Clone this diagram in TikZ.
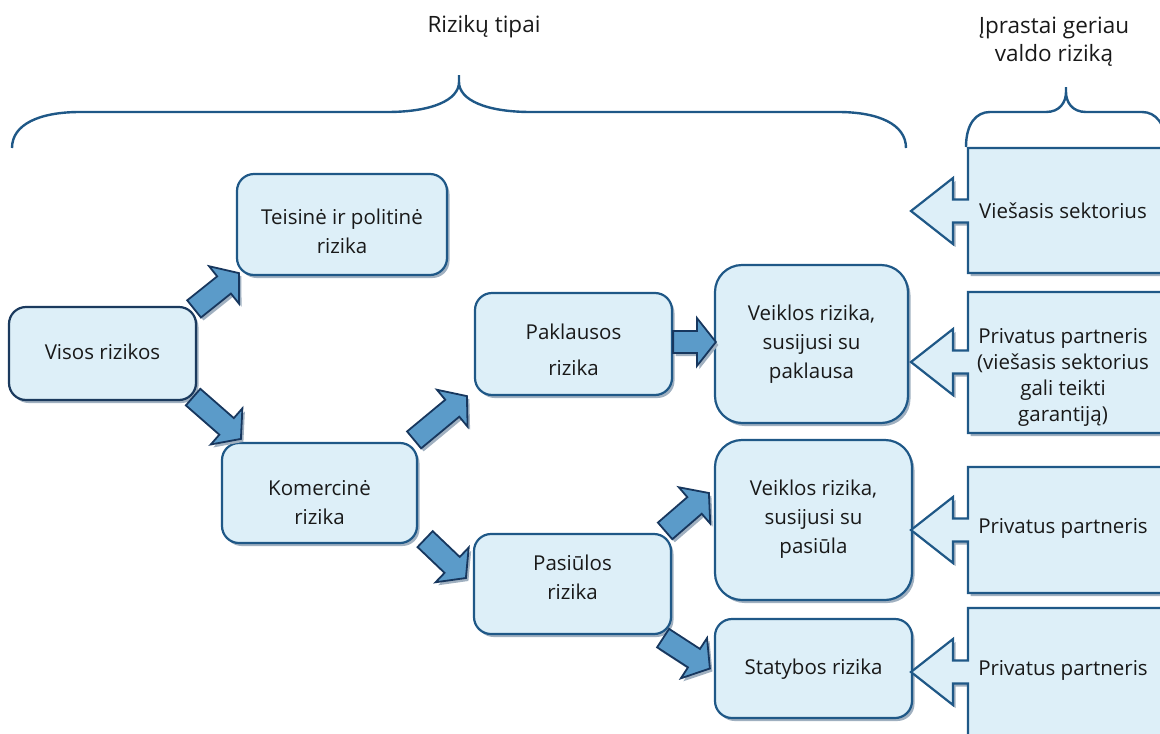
\documentclass[tikz,border=0pt]{standalone}
\usepackage{fontspec}
\setmainfont{Open Sans}
\usetikzlibrary{calc,shadows}

\definecolor{boxfill}{RGB}{221,239,248}
\definecolor{boxline}{RGB}{31,88,135}
\definecolor{rootline}{RGB}{27,58,94}
\definecolor{arrfill}{RGB}{91,155,201}
\definecolor{arrline}{RGB}{23,55,94}
\definecolor{shadowc}{RGB}{160,176,192}

\tikzset{
  every node/.style={font=\fontsize{20.5}{29}\selectfont, text=black!90},
  shade/.style={drop shadow={shadow xshift=2.5pt,shadow yshift=-3pt,fill=shadowc,opacity=1}},
  box/.style={rectangle, rounded corners=17pt, draw=boxline, fill=boxfill, line width=2.2pt,
    align=center, inner sep=0pt, shade},
  tallbox/.style={box, rounded corners=27pt},
  barrow/.style={draw=arrline, fill=arrfill, line width=1.8pt, line join=miter, shade},
  callout/.style={draw=boxline, fill=boxfill, line width=2.2pt, line join=miter, shade},
  curly/.style={draw=boxline, line width=2.4pt},
  title/.style={font=\fontsize{22.5}{28}\selectfont, align=center}
}

% block arrow from #1 to #2
\newcommand\blockarr[2]{%
  \coordinate (ba) at (#1);
  \coordinate (bb) at (#2);
  \coordinate (bc) at ($(bb)!19pt!(ba)$);
  \draw[barrow] ($(ba)!11pt!90:(bb)$) -- ($(bc)!11pt!-90:(ba)$) -- ($(bc)!24pt!-90:(ba)$)
    -- (bb) -- ($(bc)!24pt!90:(ba)$) -- ($(bc)!11pt!90:(ba)$) -- ($(ba)!11pt!-90:(bb)$) -- cycle;
}
% text lines in a box, moved down by #1
\newcommand\lines[2]{\raisebox{-#1}[\height][\depth]{\begin{tabular}{@{}c@{}}#2\end{tabular}}}

\begin{document}
\begin{tikzpicture}[x=1pt,y=-1pt]
\useasboundingbox (0,0) rectangle (1160,734);
\clip (0,0) rectangle (1160,734);

\node[title] (types) at (484,27) {Rizikų tipai};
\node[title] (owner) at (1054,42) {Įprastai geriau\\valdo riziką};

\draw[curly] (12,148) .. controls (12,124) and (40,112) .. (80,112) -- (387,112)
  .. controls (432,112) and (459,100) .. (459,82) -- (459,75)
  (459,82) .. controls (459,100) and (486,112) .. (531,112) -- (838,112)
  .. controls (878,112) and (906,124) .. (906,148);
\draw[curly] (966,147) .. controls (966,124) and (976,112) .. (990,112) -- (1046,112)
  .. controls (1060,112) and (1066,102) .. (1066,92) -- (1066,87)
  (1066,92) .. controls (1066,102) and (1072,112) .. (1086,112) -- (1142,112)
  .. controls (1156,112) and (1166,124) .. (1166,147);

% risk boxes
\node[box, draw=rootline, minimum width=187, minimum height=93] (all) at (102.5,353.5) {\lines{0pt}{Visos rizikos}};
\node[box, minimum width=210, minimum height=101] (legal) at (342,224.5) {\lines{9pt}{Teisinė ir politinė\\rizika}};
\node[box, minimum width=195, minimum height=100] (comm) at (319.5,493) {\lines{11pt}{Komercinė\\rizika}};
\node[box, minimum width=197, minimum height=102] (demand) at (573.5,344) {\lines{8pt}{Paklausos\\[7pt]rizika}};
\node[box, minimum width=197, minimum height=100] (supply) at (572.5,584) {\lines{-5pt}{Pasiūlos\\rizika}};
\node[tallbox, minimum width=193, minimum height=158] (opdem) at (811.5,344) {\lines{0pt}{Veiklos rizika,\\susijusi su\\paklausa}};
\node[tallbox, minimum width=197, minimum height=160] (opsup) at (813.5,520) {\lines{-1pt}{Veiklos rizika,\\susijusi su\\pasiūla}};
\node[box, minimum width=197, minimum height=99] (build) at (813.5,668.5) {\lines{0pt}{Statybos rizika}};

\blockarr{[shift={(-3,3)}]all.north east}{[shift={(3,-3)}]legal.south west}
\blockarr{[shift={(-4,-4)}]all.south east}{[shift={(20,-3)}]comm.north west}
\blockarr{[shift={(-4,-2)}]comm.north east}{[shift={(-7,0)}]demand.south west}
\blockarr{[shift={(7,-5)}]comm.south east}{[shift={(-7,-6)}]supply.west}
\blockarr{[shift={(-7,-2)}]supply.north east}{[shift={(-5,-27)}]opsup.west}
\blockarr{[shift={(-9,3)}]supply.south east}{[shift={(-4,0)}]build.west}
\blockarr{[shift={(0,-2)}]demand.east}{[shift={(2,-2)}]opdem.west}

% who usually manages the risk
\foreach \t/\b/\m/\ty/\txt [count=\n] in {148/273/211/211/{Viešasis sektorius},
    292/433/362/377/{Privatus partneris\\(viešasis sektorius\\gali teikti\\garantiją)},
    467/593/530/528/{Privatus partneris}, 608/790/672/670/{Privatus partneris}} {
  \draw[callout] (968,\t) -- (1185,\t) -- (1185,\b) -- (968,\b) -- (968,\m+11.5) -- (953,\m+11.5)
    -- (953,\m+33) -- (911,\m) -- (953,\m-33) -- (953,\m-11.5) -- (968,\m-11.5) -- cycle;
  \node[align=center, font=\fontsize{20.5}{26}\selectfont] (own\n) at (1063,\ty) {\txt};
}
\end{tikzpicture}
\end{document}
